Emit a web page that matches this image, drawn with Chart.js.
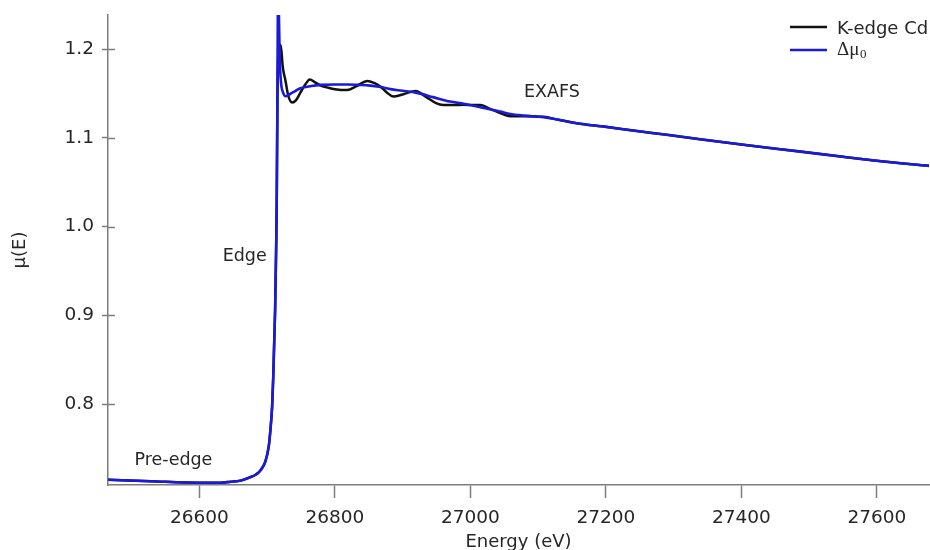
<!DOCTYPE html>
<html>
<head>
<meta charset="utf-8">
<script src="https://cdn.jsdelivr.net/npm/chart.js@4/dist/chart.umd.min.js"></script>
<style>
  html, body { margin: 0; padding: 0; background: #ffffff; }
  #wrap { width: 930px; height: 550px; }
</style>
</head>
<body>
<div id="wrap"><canvas id="c" width="930" height="550"></canvas></div>
<script>
// ---- Data ----
// Background absorption Δμ0 (smooth atomic-like background incl. edge)
const energyMu0 = [26465, 26528, 26600, 26631, 26646, 26660, 26675, 26683, 26690, 26697.4, 26702.3,
  26704.8, 26707.3, 26708.8, 26711.7, 26713.2, 26714.1, 26715.1, 26715.7, 26716.5, 26717.4, 26718.5,
  26720.5, 26723.5, 26727, 26737, 26749, 26765, 26779, 26800, 26818, 26835, 26852, 26870, 26882,
  26900, 26921, 26945, 26970, 26990, 27010, 27044, 27059, 27080, 27108, 27130, 27157, 27200, 27240,
  27290, 27339, 27400, 27487, 27550, 27600, 27677];
const mu0 = [0.7147, 0.7130, 0.7113, 0.7113, 0.7124, 0.7136, 0.7175, 0.7203, 0.7251, 0.7353, 0.7522,
  0.7710, 0.7973, 0.8274, 0.9063, 0.9739, 1.0302, 1.1429, 1.2386, 1.262, 1.235, 1.190,
  1.162, 1.151, 1.147, 1.151, 1.156, 1.1585, 1.1598, 1.1603, 1.1603, 1.1598, 1.1590, 1.1572, 1.1550,
  1.1532, 1.1508, 1.1460, 1.1410, 1.1385, 1.1355, 1.1297, 1.1270, 1.1252, 1.1234, 1.1205, 1.1166, 1.1125, 1.1083,
  1.1035, 1.0986, 1.0925, 1.0846, 1.0787, 1.0742, 1.0685];

// Measured K-edge of Cd (with EXAFS oscillations)
const energyCd = [26465, 26528, 26600, 26631, 26646, 26660, 26675, 26683, 26690, 26697.4, 26702.3,
  26704.8, 26707.3, 26708.8, 26711.7, 26713.2, 26714.1, 26715.1, 26716.2, 26717.5, 26719.5, 26721,
  26723, 26726.9, 26731, 26736.8, 26742, 26749, 26756, 26763, 26770, 26779, 26788.4, 26800, 26818,
  26832, 26848, 26858, 26867, 26877, 26886, 26900, 26919, 26935, 26950, 26960, 26975, 26990, 27003,
  27015, 27030, 27044, 27059, 27080, 27108, 27130, 27157, 27200, 27240, 27290, 27339, 27400, 27487,
  27550, 27600, 27677];
const muCd = [0.7147, 0.7130, 0.7113, 0.7113, 0.7124, 0.7136, 0.7175, 0.7203, 0.7251, 0.7353, 0.7522,
  0.7710, 0.7973, 0.8274, 0.9063, 0.9739, 1.0302, 1.1429, 1.190, 1.200, 1.205, 1.198,
  1.180, 1.165, 1.148, 1.140, 1.142, 1.151, 1.160, 1.166, 1.163, 1.159, 1.157, 1.155, 1.154,
  1.1585, 1.1643, 1.162, 1.158, 1.151, 1.1466, 1.149, 1.153, 1.146, 1.139, 1.1372, 1.137, 1.1375, 1.137,
  1.137, 1.1325, 1.128, 1.1245, 1.1245, 1.1238, 1.1205, 1.1166, 1.1125, 1.1083, 1.1035, 1.0986, 1.0925, 1.0846,
  1.0787, 1.0742, 1.0685];

const xTicks = [26600, 26800, 27000, 27200, 27400, 27600];
const yTicks = [0.8, 0.9, 1.0, 1.1, 1.2];
const seriesNames = ['K-edge Cd', 'Δμ₀'];
const regionLabels = ['Pre-edge', 'Edge', 'EXAFS'];
const regionEnergy = [26561.6, 26666.8, 27120.4];
const regionMu = [0.7316, 0.9607, 1.1466];

// ---- Styles ----
const FONT = '"DejaVu Sans", "Noto Sans", sans-serif';
const TEXT = '#262626';
const AXIS = '#7d7d7d';
const BLACK = '#111111';
const BLUE = '#1a1ad8';

function pts(xs, ys) { return xs.map((x, i) => ({ x: x, y: ys[i] })); }

const overlay = {
  id: 'overlay',
  afterDraw(chart) {
    const ctx = chart.ctx;
    const xs = chart.scales.x, ys = chart.scales.y;
    ctx.save();
    // inner part of y tick marks (ticks cross the axis)
    ctx.strokeStyle = AXIS;
    ctx.lineWidth = 1.5;
    ys.ticks.forEach(t => {
      const py = Math.round(ys.getPixelForValue(t.value)) + 0.5;
      ctx.beginPath();
      ctx.moveTo(ys.right, py);
      ctx.lineTo(ys.right + 7, py);
      ctx.stroke();
    });
    // region annotations
    ctx.fillStyle = TEXT;
    ctx.font = '17.5px ' + FONT;
    ctx.textAlign = 'center';
    ctx.textBaseline = 'alphabetic';
    regionLabels.forEach((lab, i) => {
      ctx.fillText(lab, xs.getPixelForValue(regionEnergy[i]), ys.getPixelForValue(regionMu[i]));
    });
    // legend
    const ds = chart.data.datasets;
    const rows = [27, 50];
    ctx.textAlign = 'left';
    ds.forEach((d, i) => {
      const y = rows[i];
      ctx.strokeStyle = d.borderColor;
      ctx.lineWidth = 2.5;
      ctx.beginPath();
      ctx.moveTo(790, y);
      ctx.lineTo(827, y);
      ctx.stroke();
      ctx.fillStyle = TEXT;
      const label = d.label;
      if (label.indexOf('₀') >= 0) {
        const base = label.replace('₀', '');
        ctx.font = '19px "Liberation Serif", "DejaVu Serif", serif';
        ctx.fillText(base, 837, y + 5);
        const w = ctx.measureText(base).width;
        ctx.font = '13px "Liberation Serif", "DejaVu Serif", serif';
        ctx.fillText('0', 837 + w + 0.5, y + 8);
      } else {
        ctx.font = '18px ' + FONT;
        ctx.fillText(label, 837, y + 7);
      }
    });
    ctx.restore();
  }
};

new Chart(document.getElementById('c'), {
  type: 'line',
  data: {
    datasets: [
      {
        label: seriesNames[0],
        data: pts(energyCd, muCd),
        borderColor: BLACK,
        borderWidth: 2.5,
        pointRadius: 0,
        cubicInterpolationMode: 'monotone',
        fill: false,
        order: 2,
        clip: 0
      },
      {
        label: seriesNames[1],
        data: pts(energyMu0, mu0),
        borderColor: BLUE,
        borderWidth: 2.6,
        pointRadius: 0,
        cubicInterpolationMode: 'monotone',
        fill: false,
        order: 1,
        clip: 0
      }
    ]
  },
  options: {
    responsive: false,
    animation: false,
    devicePixelRatio: 1,
    events: [],
    layout: { padding: { top: 15, right: 1, bottom: 0, left: 0 } },
    plugins: {
      legend: { display: false },
      tooltip: { enabled: false },
      title: { display: false }
    },
    scales: {
      x: {
        type: 'linear',
        min: 26465,
        max: 27677,
        afterBuildTicks: s => { s.ticks = xTicks.map(v => ({ value: v })); },
        afterFit: s => { s.height = 65; s.paddingLeft = 0; s.paddingRight = 0; },
        ticks: {
          color: TEXT,
          font: { family: FONT, size: 18.5 },
          padding: 9,
          maxRotation: 0,
          autoSkip: false,
          callback: v => String(v)
        },
        grid: {
          display: true,
          drawOnChartArea: false,
          drawTicks: true,
          tickLength: 13,
          tickWidth: 1.5,
          tickColor: AXIS,
          color: AXIS
        },
        border: { display: true, color: AXIS, width: 1.5 },
        title: {
          display: true,
          text: 'Energy (eV)',
          color: TEXT,
          font: { family: FONT, size: 18 },
          padding: { top: 0, bottom: -3 }
        }
      },
      y: {
        type: 'linear',
        min: 0.7087,
        max: 1.2386,
        afterBuildTicks: s => { s.ticks = yTicks.map(v => ({ value: v })); },
        afterFit: s => { s.width = 108; s.paddingTop = 0; s.paddingBottom = 0; },
        ticks: {
          color: TEXT,
          font: { family: FONT, size: 18.5 },
          padding: 8,
          autoSkip: false,
          callback: v => Number(v).toFixed(1)
        },
        grid: {
          display: true,
          drawOnChartArea: false,
          drawTicks: true,
          tickLength: 6,
          tickWidth: 1.5,
          tickColor: AXIS,
          color: AXIS
        },
        border: { display: true, color: AXIS, width: 1.5 },
        title: {
          display: true,
          text: 'μ(E)',
          color: TEXT,
          font: { family: FONT, size: 18 },
          padding: { top: 10, bottom: 0 }
        }
      }
    }
  },
  plugins: [overlay]
});
</script>
</body>
</html>
